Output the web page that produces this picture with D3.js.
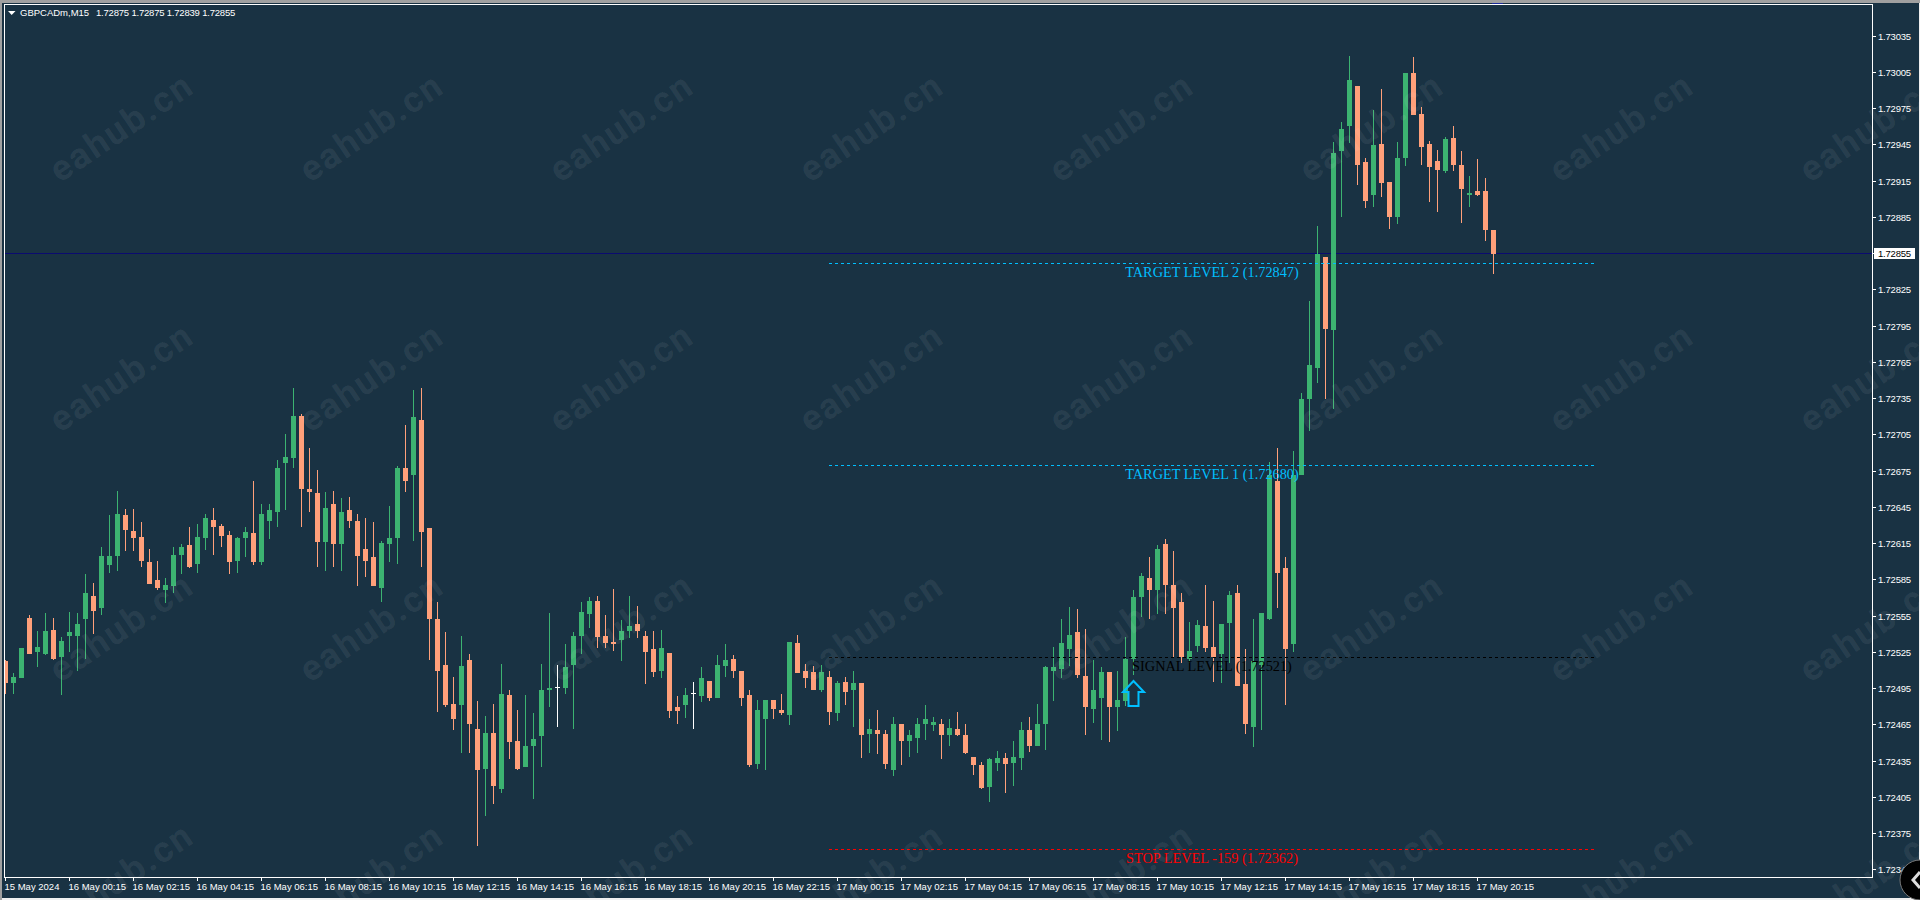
<!DOCTYPE html>
<html><head><meta charset="utf-8"><title>GBPCADm,M15</title>
<script src="https://cdn.jsdelivr.net/npm/d3@7"></script>
<style>html,body{margin:0;padding:0;background:#f0f0f0;overflow:hidden}svg{display:block}</style>
</head><body><div id="chart"></div>
<script>
const opens=[1.72518,1.72500,1.72504,1.72554,1.72526,1.72524,1.72544,1.72522,1.72539,1.72539,1.72553,1.72572,1.72562,1.72598,1.72605,1.72639,1.72626,1.72621,1.72600,1.72585,1.72577,1.72580,1.72606,1.72614,1.72599,1.72620,1.72635,1.72630,1.72623,1.72601,1.72620,1.72624,1.72600,1.72634,1.72642,1.72682,1.72686,1.72721,1.72661,1.72657,1.72617,1.72648,1.72615,1.72643,1.72634,1.72611,1.72604,1.72579,1.72615,1.72620,1.72678,1.72672,1.72718,1.72628,1.72553,1.72515,1.72483,1.72482,1.72519,1.72462,1.72429,1.72459,1.72412,1.72490,1.72452,1.72431,1.72448,1.72456,1.72494,1.72496,1.72496,1.72515,1.72539,1.72557,1.72568,1.72539,1.72534,1.72536,1.72543,1.72549,1.72539,1.72528,1.72510,1.72525,1.72480,1.72482,1.72491,1.72489,1.72502,1.72488,1.72514,1.72520,1.72510,1.72490,1.72433,1.72470,1.72486,1.72478,1.72474,1.72533,1.72510,1.72509,1.72494,1.72505,1.72475,1.72501,1.72494,1.72500,1.72458,1.72461,1.72458,1.72428,1.72466,1.72452,1.72455,1.72466,1.72465,1.72466,1.72457,1.72462,1.72457,1.72439,1.72432,1.72414,1.72434,1.72438,1.72434,1.72438,1.72461,1.72448,1.72466,1.72510,1.72512,1.72528,1.72542,1.72506,1.72479,1.72488,1.72509,1.72480,1.72485,1.72520,1.72571,1.72587,1.72577,1.72615,1.72581,1.72567,1.72520,1.72531,1.72547,1.72530,1.72524,1.72550,1.72575,1.72499,1.72464,1.72515,1.72553,1.72667,1.72595,1.72532,1.72672,1.72735,1.72761,1.72853,1.72792,1.72940,1.72961,1.72994,1.72931,1.72904,1.72946,1.72915,1.72886,1.72935,1.73005,1.72971,1.72946,1.72932,1.72924,1.72951,1.72929,1.72904,1.72907,1.72907,1.72875];
const highs=[1.72519,1.72508,1.72529,1.72556,1.72543,1.72558,1.72554,1.72538,1.72559,1.72558,1.72590,1.72583,1.72613,1.72639,1.72659,1.72644,1.72644,1.72633,1.72611,1.72601,1.72587,1.72613,1.72615,1.72629,1.72632,1.72640,1.72645,1.72632,1.72626,1.72621,1.72629,1.72667,1.72648,1.72648,1.72685,1.72706,1.72744,1.72723,1.72695,1.72676,1.72658,1.72659,1.72653,1.72654,1.72640,1.72637,1.72633,1.72618,1.72647,1.72680,1.72714,1.72743,1.72744,1.72628,1.72567,1.72542,1.72505,1.72539,1.72524,1.72485,1.72473,1.72483,1.72516,1.72494,1.72478,1.72490,1.72475,1.72516,1.72558,1.72515,1.72532,1.72542,1.72567,1.72571,1.72572,1.72556,1.72578,1.72552,1.72572,1.72564,1.72543,1.72543,1.72544,1.72525,1.72489,1.72496,1.72501,1.72513,1.72502,1.72523,1.72532,1.72523,1.72510,1.72494,1.72486,1.72486,1.72486,1.72491,1.72534,1.72540,1.72516,1.72514,1.72515,1.72510,1.72502,1.72505,1.72510,1.72500,1.72470,1.72478,1.72461,1.72472,1.72466,1.72461,1.72471,1.72482,1.72472,1.72470,1.72470,1.72476,1.72466,1.72439,1.72435,1.72438,1.72444,1.72442,1.72452,1.72468,1.72472,1.72483,1.72514,1.72530,1.72553,1.72563,1.72561,1.72545,1.72519,1.72513,1.72509,1.72510,1.72538,1.72577,1.72591,1.72604,1.72614,1.72619,1.72609,1.72575,1.72551,1.72552,1.72581,1.72568,1.72549,1.72576,1.72581,1.72528,1.72553,1.72558,1.72683,1.72695,1.72604,1.72692,1.72740,1.72816,1.72878,1.72853,1.72948,1.72964,1.73019,1.72994,1.72935,1.72974,1.72992,1.72915,1.72948,1.73005,1.73018,1.72977,1.72949,1.72941,1.72952,1.72961,1.72940,1.72920,1.72934,1.72918,1.72875];
const lows=[1.72491,1.72491,1.72504,1.72524,1.72513,1.72523,1.72519,1.72490,1.72526,1.72510,1.72520,1.72541,1.72556,1.72591,1.72593,1.72609,1.72609,1.72596,1.72582,1.72577,1.72566,1.72575,1.72590,1.72595,1.72591,1.72610,1.72606,1.72613,1.72590,1.72591,1.72604,1.72598,1.72598,1.72619,1.72629,1.72643,1.72678,1.72629,1.72642,1.72596,1.72593,1.72596,1.72593,1.72628,1.72580,1.72588,1.72580,1.72567,1.72600,1.72599,1.72658,1.72618,1.72596,1.72519,1.72476,1.72480,1.72461,1.72442,1.72442,1.72365,1.72390,1.72400,1.72409,1.72437,1.72428,1.72431,1.72404,1.72431,1.72480,1.72464,1.72491,1.72462,1.72524,1.72546,1.72529,1.72529,1.72527,1.72518,1.72537,1.72537,1.72499,1.72505,1.72504,1.72471,1.72466,1.72471,1.72462,1.72484,1.72485,1.72488,1.72505,1.72504,1.72481,1.72431,1.72429,1.72428,1.72470,1.72474,1.72465,1.72508,1.72496,1.72494,1.72493,1.72465,1.72469,1.72482,1.72464,1.72438,1.72442,1.72441,1.72429,1.72423,1.72432,1.72439,1.72442,1.72453,1.72460,1.72437,1.72448,1.72456,1.72441,1.72424,1.72412,1.72402,1.72427,1.72409,1.72415,1.72428,1.72443,1.72448,1.72445,1.72485,1.72504,1.72514,1.72504,1.72457,1.72467,1.72453,1.72451,1.72460,1.72481,1.72507,1.72555,1.72553,1.72557,1.72557,1.72522,1.72517,1.72517,1.72526,1.72526,1.72501,1.72500,1.72517,1.72498,1.72458,1.72447,1.72461,1.72552,1.72562,1.72482,1.72526,1.72672,1.72709,1.72748,1.72735,1.72727,1.72886,1.72947,1.72912,1.72893,1.72894,1.72902,1.72876,1.72880,1.72928,1.72970,1.72929,1.72898,1.72890,1.72922,1.72924,1.72881,1.72894,1.72903,1.72866,1.72839];
const closes=[1.72500,1.72505,1.72529,1.72524,1.72530,1.72543,1.72520,1.72535,1.72542,1.72549,1.72575,1.72560,1.72605,1.72605,1.72640,1.72627,1.72620,1.72601,1.72582,1.72579,1.72581,1.72606,1.72613,1.72596,1.72621,1.72637,1.72629,1.72622,1.72600,1.72620,1.72625,1.72600,1.72640,1.72643,1.72678,1.72687,1.72721,1.72661,1.72658,1.72617,1.72645,1.72615,1.72642,1.72634,1.72605,1.72601,1.72580,1.72616,1.72620,1.72678,1.72667,1.72720,1.72625,1.72553,1.72510,1.72482,1.72470,1.72514,1.72466,1.72428,1.72459,1.72415,1.72491,1.72451,1.72429,1.72448,1.72454,1.72494,1.72496,1.72496,1.72513,1.72539,1.72559,1.72568,1.72538,1.72533,1.72532,1.72543,1.72547,1.72543,1.72526,1.72509,1.72529,1.72477,1.72477,1.72490,1.72491,1.72504,1.72488,1.72515,1.72519,1.72510,1.72488,1.72432,1.72478,1.72486,1.72479,1.72475,1.72534,1.72508,1.72504,1.72494,1.72509,1.72476,1.72500,1.72493,1.72500,1.72457,1.72462,1.72458,1.72433,1.72466,1.72452,1.72457,1.72466,1.72470,1.72468,1.72457,1.72463,1.72457,1.72442,1.72432,1.72413,1.72437,1.72438,1.72433,1.72439,1.72461,1.72448,1.72466,1.72513,1.72513,1.72533,1.72540,1.72507,1.72480,1.72494,1.72509,1.72480,1.72486,1.72520,1.72571,1.72589,1.72577,1.72611,1.72581,1.72562,1.72522,1.72527,1.72548,1.72529,1.72522,1.72549,1.72573,1.72498,1.72466,1.72518,1.72558,1.72672,1.72591,1.72528,1.72672,1.72735,1.72763,1.72855,1.72793,1.72939,1.72959,1.72999,1.72929,1.72899,1.72945,1.72914,1.72886,1.72935,1.73005,1.72970,1.72944,1.72927,1.72925,1.72950,1.72929,1.72909,1.72906,1.72904,1.72875,1.72855];

const priceTicks=[1.73035,1.73005,1.72975,1.72945,1.72915,1.72885,1.72855,1.72825,1.72795,1.72765,1.72735,1.72705,1.72675,1.72645,1.72615,1.72585,1.72555,1.72525,1.72495,1.72465,1.72435,1.72405,1.72375,1.72345];
const timeBars=[0,8,16,24,32,40,48,56,64,72,80,88,96,104,112,120,128,136,144,152,160,168,176,184];
const timeLabels=["15 May 2024","16 May 00:15","16 May 02:15","16 May 04:15","16 May 06:15","16 May 08:15","16 May 10:15","16 May 12:15","16 May 14:15","16 May 16:15","16 May 18:15","16 May 20:15","16 May 22:15","17 May 00:15","17 May 02:15","17 May 04:15","17 May 06:15","17 May 08:15","17 May 10:15","17 May 12:15","17 May 14:15","17 May 16:15","17 May 18:15","17 May 20:15"];
const levelNames=["TARGET LEVEL 2 (1.72847)","TARGET LEVEL 1 (1.72680)","SIGNAL LEVEL (1.72521)","STOP LEVEL -159 (1.72362)"];
const levelPrices=[1.72847,1.72680,1.72521,1.72362];
const levelColors=["#00BFFF","#00BFFF","#000000","#FF0000"];
const levelBars=[103,199];
const legendName="GBPCADm,M15";
const legendValues="1.72875 1.72875 1.72839 1.72855";
const bidPrice=1.72855;
const arrowBar=141, arrowPrice=1.72502;
const watermark="eahub.cn";

const BG="#193243",UP="#3cb371",DOWN="#ffa07a",FONT="'Liberation Sans',Arial,sans-serif";
const W=1920,H=900,L=4,T=4,R=1872,B=877;
const x=d3.scaleLinear().domain([0,186]).range([5,1493]);
const y=d3.scaleLinear().domain([1.73035,1.72315]).rangeRound([36.7,906.7]);
const svg=d3.select("#chart").append("svg").attr("width",W).attr("height",H);

svg.append("rect").attr("width",W).attr("height",3).attr("fill","#a0a0a0");
svg.append("rect").attr("width",2).attr("height",H).attr("fill","#a0a0a0");
svg.append("rect").attr("x",2).attr("y",3).attr("width",W-3).attr("height",H-5).attr("fill",BG);

svg.append("clipPath").attr("id","plot").append("rect").attr("x",L+1).attr("y",T+1).attr("width",R-L-1).attr("height",B-T-1);
const plot=svg.append("g").attr("clip-path","url(#plot)");

plot.append("rect").attr("x",L+1).attr("width",R-L-1).attr("y",y(bidPrice)-1).attr("height",1).attr("fill","#0b0b70");

const bars=d3.range(opens.length).map(i=>({i,o:opens[i],h:highs[i],l:lows[i],c:closes[i]}));
const colour=d=>d.c>d.o?UP:d.c<d.o?DOWN:"#ffffff";
const g=plot.selectAll("g.bar").data(bars).join("g").attr("class","bar").attr("fill",colour);
g.append("rect").attr("x",d=>x(d.i)).attr("width",1).attr("y",d=>y(d.h)).attr("height",d=>Math.max(1,y(d.l)-y(d.h)));
g.append("rect").attr("x",d=>x(d.i)-2).attr("width",5)
 .attr("y",d=>d.c===d.o?y(d.o)-1:y(Math.max(d.o,d.c)))
 .attr("height",d=>Math.max(1,Math.abs(y(d.o)-y(d.c))));

// frame
svg.append("rect").attr("x",L+.5).attr("y",T+.5).attr("width",R-L).attr("height",B-T).attr("fill","none").attr("stroke","#fff");
svg.append("rect").attr("x",1492).attr("y",3).attr("width",11).attr("height",1).attr("fill","#1a2a9a");

// price axis
svg.append("rect").attr("x",1874).attr("y",248).attr("width",41).attr("height",11).attr("fill","#fff");
const ya=svg.append("g").attr("transform",`translate(${R},-1)`)
 .call(d3.axisRight(y).tickValues(priceTicks).tickSize(4).tickPadding(2).tickFormat(d3.format(".5f")));
ya.select(".domain").remove();
ya.selectAll("line").attr("stroke","#fff");
ya.selectAll("text").attr("fill",d=>d===bidPrice?"#000":"#fff").attr("font-family",FONT).attr("font-size",9.5).attr("letter-spacing",-0.2).attr("dy","0.34em");

// time axis
const xa=svg.append("g").attr("transform",`translate(0,${B})`)
 .call(d3.axisBottom(x).tickValues(timeBars).tickSize(4).tickFormat((d,i)=>timeLabels[i]));
xa.select(".domain").remove();
xa.selectAll("line").attr("stroke","#fff");
xa.selectAll("text").attr("fill","#fff").attr("font-family",FONT).attr("font-size",9.5).attr("text-anchor","start").attr("y",6).attr("dy","0.71em").attr("dx",-1);

// legend
svg.append("path").attr("d","M8 11H15.5L11.7 15Z").attr("fill","#fff");
const lg=svg.append("text").attr("y",16).attr("fill","#fff").attr("font-family",FONT).attr("font-size",9.5);
lg.append("tspan").attr("x",20).text(legendName);
lg.append("tspan").attr("x",96).attr("letter-spacing",-0.2).text(legendValues);

// levels
const lv=svg.append("g").selectAll("g").data(levelPrices).join("g");
lv.append("line").attr("x1",x(levelBars[0])).attr("x2",x(levelBars[1]))
 .attr("y1",d=>y(d)-.5).attr("y2",d=>y(d)-.5).attr("stroke",(d,i)=>levelColors[i]).attr("stroke-dasharray","3,3");
lv.append("text").attr("x",1212).attr("y",d=>y(d)+12.5).attr("text-anchor","middle")
 .attr("font-family","'Liberation Serif',serif").attr("font-size",14.3)
 .attr("fill",(d,i)=>levelColors[i]).text((d,i)=>levelNames[i]);

// arrow
const ax=x(arrowBar)+.5, ay=y(arrowPrice);
svg.append("path").attr("transform",`translate(${ax},${ay})`)
 .attr("d","M0 0L10.5 11H5V25H-5V11H-10.5Z").attr("fill","none").attr("stroke","#00bfff").attr("stroke-width",2);

// watermark
const cols=d3.range(8),rows=d3.range(4);
const wm=svg.append("g");
rows.forEach(r=>cols.forEach(c=>{
  wm.append("text").attr("transform",`translate(${121+250*c},${127+250*r}) rotate(-34)`)
   .attr("text-anchor","middle").attr("dy","0.35em")
   .attr("font-family","Roboto,sans-serif").attr("font-weight",700).attr("font-size",36).attr("letter-spacing",2)
   .attr("fill","rgba(255,255,255,0.075)").text(watermark);
}));

// corner badge
svg.append("circle").attr("cx",1920).attr("cy",880).attr("r",20).attr("fill","#000").attr("stroke","#777").attr("stroke-width",1);
svg.append("path").attr("d","M1920 872L1913 880L1920 888").attr("fill","none").attr("stroke","#ddd").attr("stroke-width",3);
</script></body></html>
